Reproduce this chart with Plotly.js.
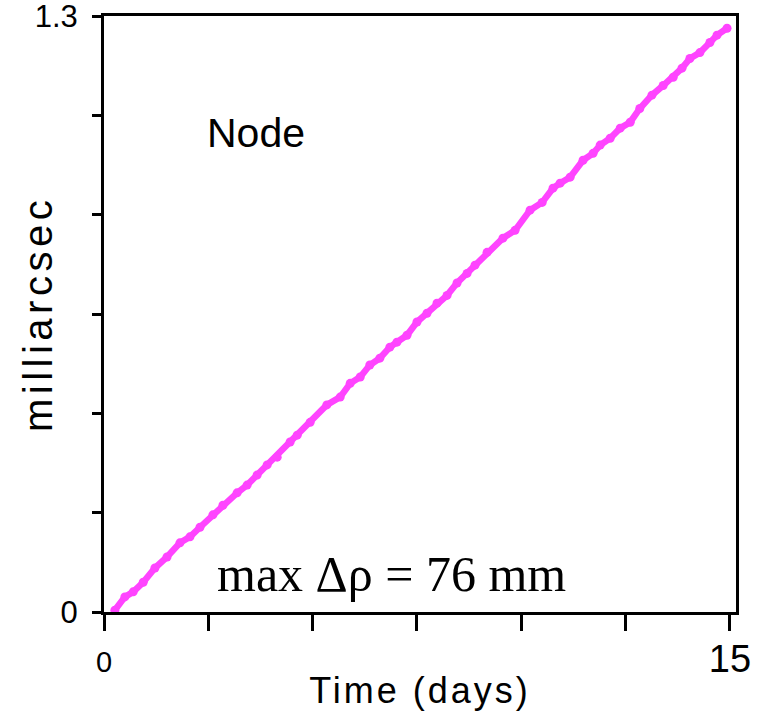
<!DOCTYPE html>
<html>
<head>
<meta charset="utf-8">
<script src="https://cdn.plot.ly/plotly-3.0.1.min.js"></script>
<style>
html,body{margin:0;padding:0;background:#fff;}
#chart{width:761px;height:718px;}
.xtitle{letter-spacing:3px;}
</style>
</head>
<body>
<div id="chart"></div>
<script>
// Time in days
const timeDays = [0.26,0.50,0.70,0.94,1.22,1.51,1.82,2.06,2.30,2.61,2.85,3.19,3.43,3.67,3.91,4.15,4.46,4.63,4.94,5.34,5.66,5.90,6.14,6.37,6.61,6.85,7.02,7.26,7.50,7.74,7.98,8.22,8.46,8.70,8.89,9.18,9.56,9.85,10.21,10.50,10.76,10.93,11.17,11.48,11.72,11.89,12.13,12.37,12.61,12.84,13.13,13.40,13.64,13.85,14.04,14.28,14.52,14.69,14.93];
// Node shift in milliarcsec
const nodeMas = [0.004,0.033,0.044,0.065,0.096,0.120,0.151,0.164,0.185,0.212,0.233,0.260,0.277,0.299,0.321,0.338,0.371,0.386,0.414,0.452,0.469,0.499,0.513,0.539,0.554,0.578,0.589,0.604,0.633,0.652,0.674,0.691,0.718,0.739,0.757,0.785,0.816,0.833,0.877,0.894,0.925,0.936,0.949,0.986,1.001,1.019,1.034,1.056,1.069,1.099,1.128,1.149,1.167,1.187,1.208,1.221,1.243,1.259,1.274];

const xTickVals = [0,2.5,5,7.5,10,12.5,15];
const xTickText = ['0','','','','','','<span style="font-size:38px">15</span>'];
const yTickVals = [0,0.2167,0.4333,0.65,0.8667,1.0833,1.3];
const yTickText = ['0','','','','','','1.3'];
const yTitle = 'milliarcsec';

const trace = {
  x: timeDays, y: nodeMas, type: 'scatter', mode: 'lines+markers',
  line: {color: '#ff44ff', width: 6.5},
  marker: {color: '#ff44ff', size: 9},
  hoverinfo: 'skip'
};

const layout = {
  width: 761, height: 718,
  margin: {l: 104, r: 25, t: 16, b: 106},
  paper_bgcolor: '#fff', plot_bgcolor: '#fff',
  showlegend: false,
  font: {family: 'Arial, Liberation Sans, sans-serif', color: '#000'},
  xaxis: {
    range: [0, 15.145], showgrid: false, zeroline: false,
    showline: true, linecolor: '#000', linewidth: 3, mirror: true,
    ticks: 'outside', ticklen: 16, tickwidth: 3, tickcolor: '#000',
    tickmode: 'array', tickvals: xTickVals, ticktext: xTickText,
    tickfont: {size: 29, family: 'Arial, Liberation Sans, sans-serif'},
    ticklabelstandoff: 6, ticklabeloverflow: 'allow',
    title: {text: 'Time (days)', font: {size: 36, family: 'Arial, Liberation Sans, sans-serif'}, standoff: 0}
  },
  yaxis: {
    range: [0, 1.3008], showgrid: false, zeroline: false,
    showline: true, linecolor: '#000', linewidth: 3, mirror: true,
    ticks: 'outside', ticklen: 9, tickwidth: 3, tickcolor: '#000',
    tickmode: 'array', tickvals: yTickVals, ticktext: yTickText,
    tickfont: {size: 31, family: 'Arial, Liberation Sans, sans-serif'},
    ticklabelstandoff: 8, ticklabeloverflow: 'allow'
  },
  annotations: [
    {x: -0.1044, y: 0.5, xref: 'paper', yref: 'paper', textangle: -90,
     text: '<span style="letter-spacing:4.5px">' + yTitle + '</span>', showarrow: false,
     xanchor: 'center', yanchor: 'middle', font: {size: 40, family: 'Arial, Liberation Sans, sans-serif', color: '#000'}},
    {x: 2.42, y: 1.045, xref: 'x', yref: 'y', text: 'Node', showarrow: false,
     xanchor: 'left', yanchor: 'middle', font: {size: 41, family: 'Arial, Liberation Sans, sans-serif', color: '#000'}},
    {x: 6.88, y: 0.083, xref: 'x', yref: 'y', text: 'max Δρ = 76 mm', showarrow: false,
     xanchor: 'center', yanchor: 'middle', font: {size: 50, family: 'Liberation Serif, Times New Roman, serif', color: '#000'}}
  ]
};

Plotly.newPlot('chart', [trace], layout, {displayModeBar: false, staticPlot: true});
</script>
</body>
</html>
